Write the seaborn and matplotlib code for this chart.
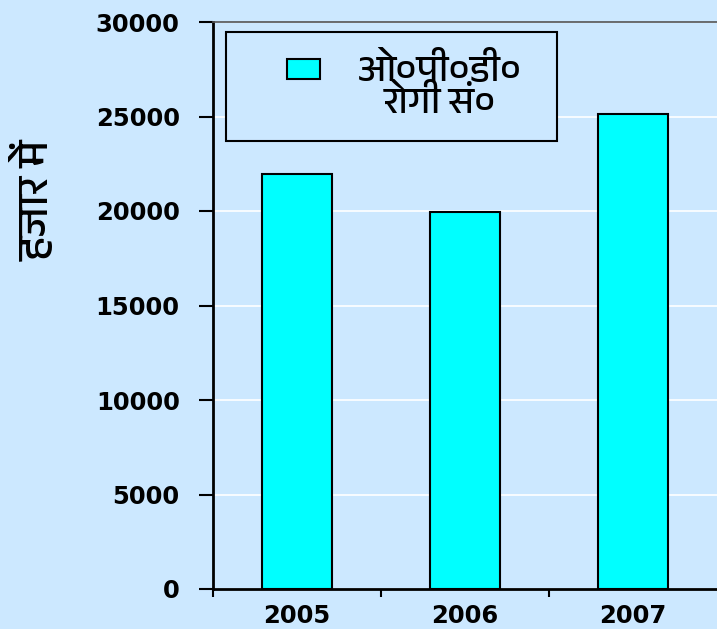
import matplotlib
matplotlib.use("Agg")
import matplotlib.pyplot as plt
import matplotlib.font_manager as fm
from matplotlib.container import BarContainer
from matplotlib.legend_handler import HandlerPatch
from matplotlib.ticker import FixedLocator
import pandas as pd
import seaborn as sns

# --- data ---
years = ["2005", "2006", "2007"]
opd_patients = [21950, 19950, 25130]
legend_label = "ओ०पी०डी०\nरोगी सं०"
y_label = "हजार में"
y_ticks = [0, 5000, 10000, 15000, 20000, 25000, 30000]

bg = "#cce8ff"
bar_color = "#00ffff"

# find an installed font that has Devanagari
deva = [f.name for f in fm.fontManager.ttflist if "devanagari" in f.name.lower()]
deva_family = (deva[:1] if deva else []) + ["Noto Sans", "DejaVu Sans"]

sns.set_style("white")
plt.rcParams["font.family"] = ["DejaVu Sans"]
plt.rcParams.update({
    "text.color": "black",
    "axes.labelcolor": "black",
    "xtick.color": "black",
    "ytick.color": "black",
    "ytick.major.pad": 14,
    "xtick.major.pad": 11,
})

df = pd.DataFrame({"year": years, "value": opd_patients})

fig = plt.figure(figsize=(7.17, 6.29), dpi=100, facecolor=bg)
ax = fig.add_axes([213 / 717, 1 - 589 / 629, 1 - 213 / 717, (589 - 22) / 629])
ax.set_facecolor(bg)

sns.barplot(data=df, x="year", y="value", color=bar_color, width=0.42,
            edgecolor="black", linewidth=1.5, saturation=1, label=legend_label, ax=ax)

ax.set_ylim(0, 30000)
ax.set_xlim(-0.5, 2.5)
ax.set_yticks(y_ticks)
ax.set_yticklabels([str(t) for t in y_ticks], fontsize=17.5, fontweight="bold")
ax.yaxis.grid(True, color="white", linewidth=1.2)
ax.set_axisbelow(True)

ax.tick_params(axis="y", direction="out", length=10, width=1.5, left=True)
ax.tick_params(axis="x", which="major", length=0, labelsize=17.5)
for lab in ax.get_xticklabels():
    lab.set_fontweight("bold")
ax.xaxis.set_minor_locator(FixedLocator([-0.5, 0.5, 1.5]))
ax.tick_params(axis="x", which="minor", direction="out", length=6, width=1.5, bottom=True)

for side in ["left", "bottom"]:
    ax.spines[side].set_color("black")
    ax.spines[side].set_linewidth(2)
ax.spines["right"].set_visible(False)
ax.spines["top"].set_color("#555555")
ax.spines["top"].set_linewidth(1.2)

ax.set_xlabel("")
ax.set_ylabel(y_label, fontsize=32, family=deva_family)
ax.yaxis.set_label_coords(-0.31, (589 - 200) / 567)


def first_bar_style(handle, orig):
    handle.update_from(orig.patches[0])


# legend: small swatch next to the first line of a two-line label
top = 557 / 567
leg = ax.legend(loc="upper left", bbox_to_anchor=(13 / 504, top - 0.1, 331 / 504, 0.1),
                mode="expand", borderaxespad=0, frameon=True, fancybox=False,
                edgecolor="black", facecolor=bg, framealpha=1,
                prop={"family": deva_family, "size": 27},
                borderpad=0.55, handlelength=1.96, handleheight=1.9, handletextpad=1.0,
                handler_map={BarContainer: HandlerPatch(xpad=1.08, ypad=0.95,
                                                        update_func=first_bar_style)})
leg.get_frame().set_linewidth(1.5)
for t in leg.get_texts():
    t.set_multialignment("center")
    t.set_linespacing(0.95)

fig.savefig("out.png", dpi=100, facecolor=bg)
